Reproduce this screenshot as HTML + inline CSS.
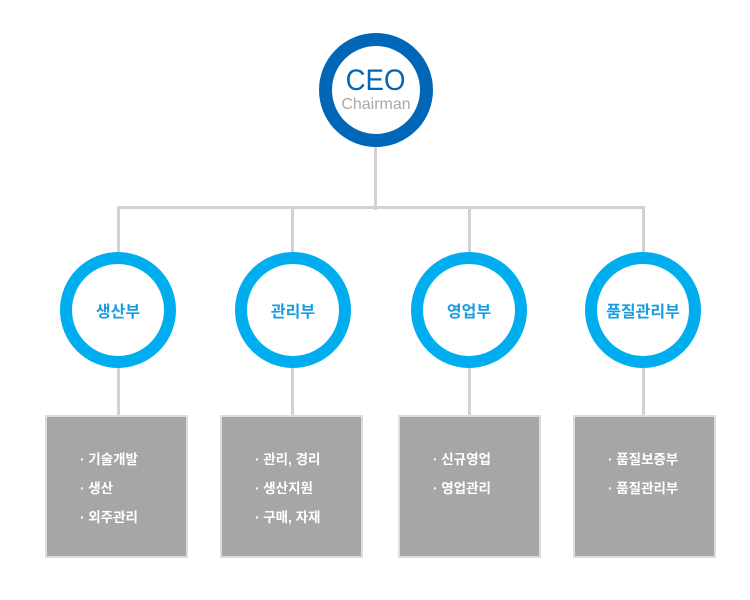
<!DOCTYPE html>
<html><head><meta charset="utf-8"><style>
body{margin:0;width:750px;height:600px;background:#fff;position:relative;overflow:hidden;font-family:"Liberation Sans","Noto Sans CJK KR",sans-serif}
.l{position:absolute;background:#d2d2d2}
.c{position:absolute;box-sizing:border-box;border-radius:50%;background:#fff;display:flex;align-items:center;justify-content:center;flex-direction:column}
.d{width:116px;height:116px;border:12px solid #00aeef;color:#1a9de0;font-size:16px;font-weight:bold}
.b{position:absolute;top:415px;width:143px;height:143px;box-sizing:border-box;background:#a6a6a6;border:2px solid #dcdcdc;color:#fff;font-size:13.5px;font-weight:bold}
.b div{position:absolute;left:33px;line-height:29px;top:28px}
</style></head><body>
<div class="l" style="left:374px;top:140px;width:3px;height:70px"></div>
<div class="l" style="left:117px;top:206px;width:528px;height:3px"></div>
<div class="l" style="left:117px;top:206px;width:3px;height:210px"></div>
<div class="l" style="left:291px;top:206px;width:3px;height:210px"></div>
<div class="l" style="left:468px;top:206px;width:3px;height:210px"></div>
<div class="l" style="left:642px;top:206px;width:3px;height:210px"></div>
<div class="c" style="left:319px;top:33px;width:114px;height:114px;border:13px solid #0066b8">
<div style="color:#0066b8;font-size:30px;line-height:28px;margin-top:2px;transform:scaleX(0.92)">CEO</div>
<div style="color:#a9a9a9;font-size:16px;line-height:20px">Chairman</div></div>
<div class="c d" style="left:60px;top:252px">생산부</div>
<div class="c d" style="left:235px;top:252px">관리부</div>
<div class="c d" style="left:411px;top:252px">영업부</div>
<div class="c d" style="left:585px;top:252px">품질관리부</div>
<div class="b" style="left:45px"><div>· 기술개발<br>· 생산<br>· 외주관리</div></div>
<div class="b" style="left:220px"><div>· 관리, 경리<br>· 생산지원<br>· 구매, 자재</div></div>
<div class="b" style="left:398px"><div>· 신규영업<br>· 영업관리</div></div>
<div class="b" style="left:573px"><div>· 품질보증부<br>· 품질관리부</div></div>
</body></html>
